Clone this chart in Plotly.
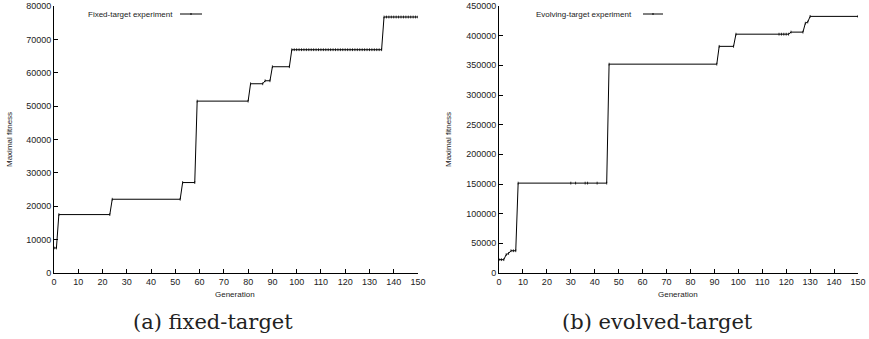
import plotly.graph_objects as go

# ---- data: fixed-target experiment ----
fixed_gen = [0, 1, 2, 23, 24, 52, 53, 58, 59, 80, 81, 86, 87, 89, 90, 97,
             98, 99, 100, 101, 102, 103, 104, 105, 106, 107, 108, 109, 110,
             111, 112, 113, 114, 115, 116, 117, 118, 119, 120, 121, 122, 123,
             124, 125, 126, 127, 128, 129, 130, 131, 132, 133, 134, 135,
             136, 137, 138, 139, 140, 141, 142, 143, 144, 145, 146, 147, 148, 149, 150]
fixed_fit = [7500, 7500, 17500, 17500, 22100, 22100, 27100, 27100, 51500, 51500,
             56700, 56700, 57600, 57600, 61800, 61800,
             66900, 66900, 66900, 66900, 66900, 66900, 66900, 66900, 66900, 66900,
             66900, 66900, 66900, 66900, 66900, 66900, 66900, 66900, 66900, 66900,
             66900, 66900, 66900, 66900, 66900, 66900, 66900, 66900, 66900, 66900,
             66900, 66900, 66900, 66900, 66900, 66900, 66900, 66900,
             76700, 76700, 76700, 76700, 76700, 76700, 76700, 76700, 76700, 76700,
             76700, 76700, 76700, 76700, 76700]

# ---- data: evolving-target experiment ----
evol_gen = [0, 1, 2, 3, 4, 5, 6, 7, 8, 30, 32, 36, 37, 41, 45, 46, 91, 92, 98, 99,
            117, 118, 119, 120, 121, 122, 127, 128, 129, 130, 150]
evol_fit = [22500, 22500, 22500, 31000, 33000, 37500, 37500, 37500, 151500,
            151500, 151500, 151500, 151500, 151500, 151500, 352000, 352000,
            382000, 382000, 402500, 402500, 402500, 402500, 402500, 402500,
            406000, 406000, 421000, 423000, 432500, 432500]

x_ticks = [0, 10, 20, 30, 40, 50, 60, 70, 80, 90, 100, 110, 120, 130, 140, 150]
fixed_yticks = [0, 10000, 20000, 30000, 40000, 50000, 60000, 70000, 80000]
evol_yticks = [0, 50000, 100000, 150000, 200000, 250000, 300000, 350000, 400000, 450000]

W, H = 869, 339
TICKFONT = dict(family="Liberation Sans, Arial, sans-serif", size=9, color="#222")
LBLFONT = dict(family="Liberation Sans, Arial, sans-serif", size=8, color="#222")

def px(x):
    return x / W

def py(y):
    return 1 - y / H

fig = go.Figure()
line_style = dict(color="black", width=1)
marker_style = dict(symbol="line-ns-open", size=2, color="black", line=dict(width=0.8, color="black"))

fig.add_trace(go.Scatter(x=fixed_gen, y=fixed_fit, mode="lines+markers", line=line_style,
                         marker=marker_style, xaxis="x", yaxis="y", showlegend=False,
                         name="Fixed-target experiment"))
fig.add_trace(go.Scatter(x=evol_gen, y=evol_fit, mode="lines+markers", line=line_style,
                         marker=marker_style, xaxis="x2", yaxis="y2", showlegend=False,
                         name="Evolving-target experiment"))

axis_common = dict(showgrid=False, zeroline=False, showline=True, linecolor="black",
                   linewidth=1, ticks="inside", ticklen=4, tickwidth=1, tickcolor="black",
                   tickfont=TICKFONT, mirror=False, automargin=False)

y_bot, y_top = py(273), py(6)
fig.update_layout(
    width=W, height=H, margin=dict(l=0, r=0, t=0, b=0, autoexpand=False),
    paper_bgcolor="white", plot_bgcolor="white",
    xaxis=dict(domain=[px(54), px(418)], range=[0, 150], tickvals=x_ticks,
               ticktext=[str(v) for v in x_ticks], anchor="y", **axis_common),
    yaxis=dict(domain=[y_bot, y_top], range=[0, 80000], tickvals=fixed_yticks,
               ticktext=[str(v) for v in fixed_yticks], anchor="x", **axis_common),
    xaxis2=dict(domain=[px(499), px(858)], range=[0, 150], tickvals=x_ticks,
                ticktext=[str(v) for v in x_ticks], anchor="y2", **axis_common),
    yaxis2=dict(domain=[y_bot, y_top], range=[0, 450000], tickvals=evol_yticks,
                ticktext=[str(v) for v in evol_yticks], anchor="x2", **axis_common),
)

ann = []
# axis titles
ann.append(dict(text="Generation", x=px(235), y=py(294), xref="paper", yref="paper",
                showarrow=False, font=LBLFONT, xanchor="center", yanchor="middle"))
ann.append(dict(text="Generation", x=px(678), y=py(294), xref="paper", yref="paper",
                showarrow=False, font=LBLFONT, xanchor="center", yanchor="middle"))
ann.append(dict(text="Maximal fitness", x=px(9), y=py(140), xref="paper", yref="paper",
                showarrow=False, font=LBLFONT, textangle=-90, xanchor="center", yanchor="middle"))
ann.append(dict(text="Maximal fitness", x=px(448), y=py(140), xref="paper", yref="paper",
                showarrow=False, font=LBLFONT, textangle=-90, xanchor="center", yanchor="middle"))
# legend texts
ann.append(dict(text="Fixed-target experiment", x=px(175), y=py(14), xref="paper", yref="paper",
                showarrow=False, font=LBLFONT, xanchor="right", yanchor="middle"))
ann.append(dict(text="Evolving-target experiment", x=px(634), y=py(14), xref="paper", yref="paper",
                showarrow=False, font=LBLFONT, xanchor="right", yanchor="middle"))
# captions
CAPFONT = dict(family="DejaVu Serif, serif", size=21, color="#222")
ann.append(dict(text="(a) fixed-target", x=px(213), y=py(322), xref="paper", yref="paper",
                showarrow=False, font=CAPFONT, xanchor="center", yanchor="middle"))
ann.append(dict(text="(b) evolved-target", x=px(657), y=py(322), xref="paper", yref="paper",
                showarrow=False, font=CAPFONT, xanchor="center", yanchor="middle"))
fig.update_layout(annotations=ann)

# legend line samples
shapes = []
for x0, x1 in [(180, 202), (643, 663)]:
    shapes.append(dict(type="line", xref="paper", yref="paper", x0=px(x0), x1=px(x1),
                       y0=py(14), y1=py(14), line=dict(color="black", width=1)))
    xm = (x0 + x1) / 2
    shapes.append(dict(type="line", xref="paper", yref="paper", x0=px(xm), x1=px(xm),
                       y0=py(13), y1=py(15), line=dict(color="black", width=1)))
fig.update_layout(shapes=shapes)

fig.write_html("out.html", config={"responsive": False, "displayModeBar": False},
               post_script="document.body.style.margin='0';document.body.style.padding='0';document.body.style.overflow='hidden';")
